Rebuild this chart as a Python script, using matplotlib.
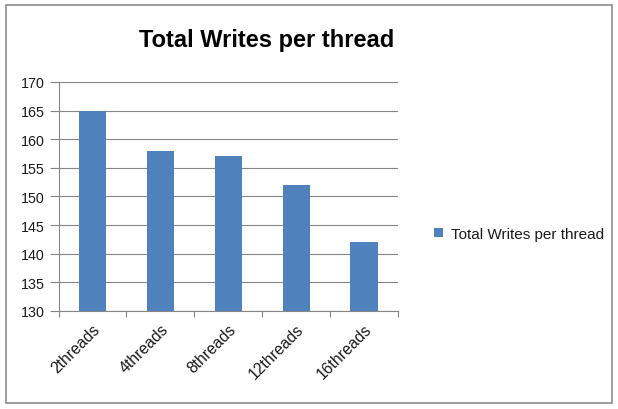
import matplotlib
matplotlib.use("Agg")
import matplotlib.pyplot as plt
from matplotlib import font_manager
from matplotlib.patches import Rectangle

categories = ["2threads", "4threads", "8threads", "12threads", "16threads"]
writes = [165, 158, 157, 152, 142]
series_name = "Total Writes per thread"
title = "Total Writes per thread"
y_ticks = [130, 135, 140, 145, 150, 155, 160, 165, 170]

bar_color = "#4F81BD"
grid_color = "#868686"

# pick a narrow face if one is installed (the original looks like squeezed Calibri)
installed = {f.name for f in font_manager.fontManager.ttflist}
if "Liberation Sans Narrow" in installed:
    family = "Liberation Sans Narrow"
    sizes = {"title": 21, "ytick": 12, "xtick": 13, "legend": 13.5}
else:
    family = "Liberation Sans"
    sizes = {"title": 17, "ytick": 10.3, "xtick": 11.3, "legend": 11}
plt.rcParams["font.family"] = [family, "DejaVu Sans"]

fig = plt.figure(figsize=(6.18, 4.10), dpi=100)
fig.patch.set_facecolor("white")

# outer chart border
fig.add_artist(Rectangle((6 / 618, 6 / 410), 606 / 618, 398 / 410,
                         transform=fig.transFigure, fill=False,
                         edgecolor="#8c8c8c", linewidth=1.2))

ax = fig.add_axes([58.5 / 618, 98 / 410, 339.5 / 618, 229 / 410])
x = list(range(len(categories)))
ax.bar(x, writes, width=0.4, color=bar_color, label=series_name, zorder=3)

ax.set_xlim(-0.5, len(categories) - 0.5)
ax.set_ylim(130, 170)
ax.set_yticks(y_ticks)
ax.tick_params(axis="y", labelsize=sizes["ytick"], length=6.5, color=grid_color,
               pad=3.5, labelcolor="#1a1a1a")
ax.yaxis.grid(True, color=grid_color, linewidth=0.8, zorder=0)

# category tick marks at boundaries, labels at centres
ax.set_xticks([i - 0.5 for i in range(len(categories) + 1)])
ax.set_xticklabels([])
ax.tick_params(axis="x", length=4.5, color=grid_color)
ax.set_xticks(x, minor=True)
ax.set_xticklabels(categories, minor=True, rotation=45, ha="right",
                   rotation_mode="anchor", fontsize=sizes["xtick"], color="#1a1a1a")
ax.tick_params(axis="x", which="minor", length=0, pad=7)

for side in ["top", "right"]:
    ax.spines[side].set_visible(False)
for side in ["left", "bottom"]:
    ax.spines[side].set_color(grid_color)
ax.set_axisbelow(True)

fig.text(267 / 618, 370 / 410, title, ha="center", va="center",
         fontsize=sizes["title"], fontweight="bold")

fig.legend(loc="center left", bbox_to_anchor=(420 / 618, 175 / 410),
           frameon=False, fontsize=sizes["legend"], handlelength=0.6,
           handleheight=0.6, handletextpad=0.5, labelcolor="#1a1a1a")

fig.savefig("out.png", dpi=100)
